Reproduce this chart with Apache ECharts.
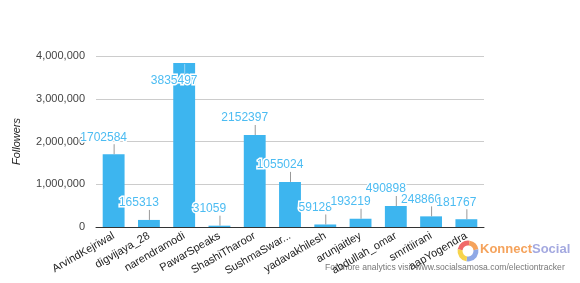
<!DOCTYPE html>
<html>
<head>
<meta charset="utf-8">
<script src="https://cdn.jsdelivr.net/npm/echarts@6/dist/echarts.min.js"></script>
<style>
html,body{margin:0;padding:0;background:#fff;}
#chart{width:580px;height:283px;}
</style>
</head>
<body>
<div id="chart"></div>
<script>
const categories = ["ArvindKejriwal","digvijaya_28","narendramodi","PawarSpeaks","ShashiTharoor","SushmaSwar...","yadavakhilesh","arunjaitley","abdullah_omar","smritiirani","aapYogendra"];
const followers = [1702584,165313,3835497,31059,2152397,1055024,59128,193219,490898,248860,181767];
const yTicks = [0,1000000,2000000,3000000,4000000];

const FONT = 'Arial, "Liberation Sans", sans-serif';
const BAR = '#3db5ef';
const LABEL = '#4cbcf2';

function fmt(v){ return String(v).replace(/\B(?=(\d{3})+(?!\d))/g, ','); }

const chart = echarts.init(document.getElementById('chart'), null, {renderer:'canvas'});
chart.setOption({
  animation:false,
  backgroundColor:'#fff',
  grid:{left:96,right:96,top:56,bottom:56,containLabel:false},
  xAxis:{
    type:'category',
    data:categories,
    axisLine:{show:true,lineStyle:{color:'#333',width:1}},
    axisTick:{show:false},
    axisLabel:{interval:0,rotate:30,margin:8,fontSize:11,color:'#222',fontFamily:FONT}
  },
  yAxis:{
    type:'value',
    min:yTicks[0],max:yTicks[yTicks.length-1],interval:yTicks[1]-yTicks[0],
    name:'Followers',nameLocation:'middle',nameGap:74,
    nameTextStyle:{fontStyle:'italic',fontSize:11,color:'#222',fontFamily:FONT},
    axisLine:{show:false},axisTick:{show:false},
    axisLabel:{margin:11,fontSize:11,color:'#444',fontFamily:FONT,formatter:v=>fmt(v)},
    splitLine:{lineStyle:{color:'#ccc',width:1}}
  },
  series:[
    {type:'bar',data:followers,barWidth:'62%',itemStyle:{color:BAR},z:2},
    {type:'custom',z:5,
     data:followers.map((v,i)=>[i,v]),
     renderItem:function(params,api){
       const top = api.coord([api.value(0),api.value(1)]);
       const cs = params.coordSys;
       const x = top[0], y = top[1];
       const inside = (y - 26 < cs.y);
       let y1, y2, ty;
       if (inside) { y1 = y+1; y2 = y+11; ty = y+18; }
       else { y1 = y; y2 = y-10; ty = y-17; }
       return {type:'group',children:[
         {type:'line',shape:{x1:x+0.5,y1:y1,x2:x+0.5,y2:y2},style:{stroke: inside?'#9ad6f5':'#999',lineWidth:1}},
         {type:'text',style:{text:String(api.value(1)),x:x-10,y:ty,align:'center',verticalAlign:'middle',
           fill:LABEL,font:'12px '+FONT,stroke:'#fff',lineWidth:3}}
       ]};
     }
    }
  ],
  graphic:[
    {type:'arc',shape:{cx:468,cy:251,r:8,startAngle:Math.PI*1.05,endAngle:Math.PI*1.55},style:{stroke:'#f06a6a',lineWidth:5,fill:null}},
    {type:'arc',shape:{cx:468,cy:251,r:8,startAngle:Math.PI*1.55,endAngle:Math.PI*1.95},style:{stroke:'#f5a35c',lineWidth:5,fill:null}},
    {type:'arc',shape:{cx:468,cy:251,r:8,startAngle:Math.PI*1.95,endAngle:Math.PI*2.55},style:{stroke:'#8fa9e6',lineWidth:5,fill:null}},
    {type:'arc',shape:{cx:468,cy:251,r:8,startAngle:Math.PI*0.55,endAngle:Math.PI*1.05},style:{stroke:'#f7d44c',lineWidth:5,fill:null}},
    {type:'text',left:480,top:243,style:{text:'{a|Konnect}{b|Social}',rich:{a:{fill:'#f5a35c',font:'bold 13px '+FONT},b:{fill:'#a4a9e0',font:'bold 13px '+FONT}}}},
    {type:'text',left:325,top:263,style:{text:'For more analytics visit www.socialsamosa.com/electiontracker',fill:'#777',font:'8.6px '+FONT}}
  ]
});
</script>
</body>
</html>
